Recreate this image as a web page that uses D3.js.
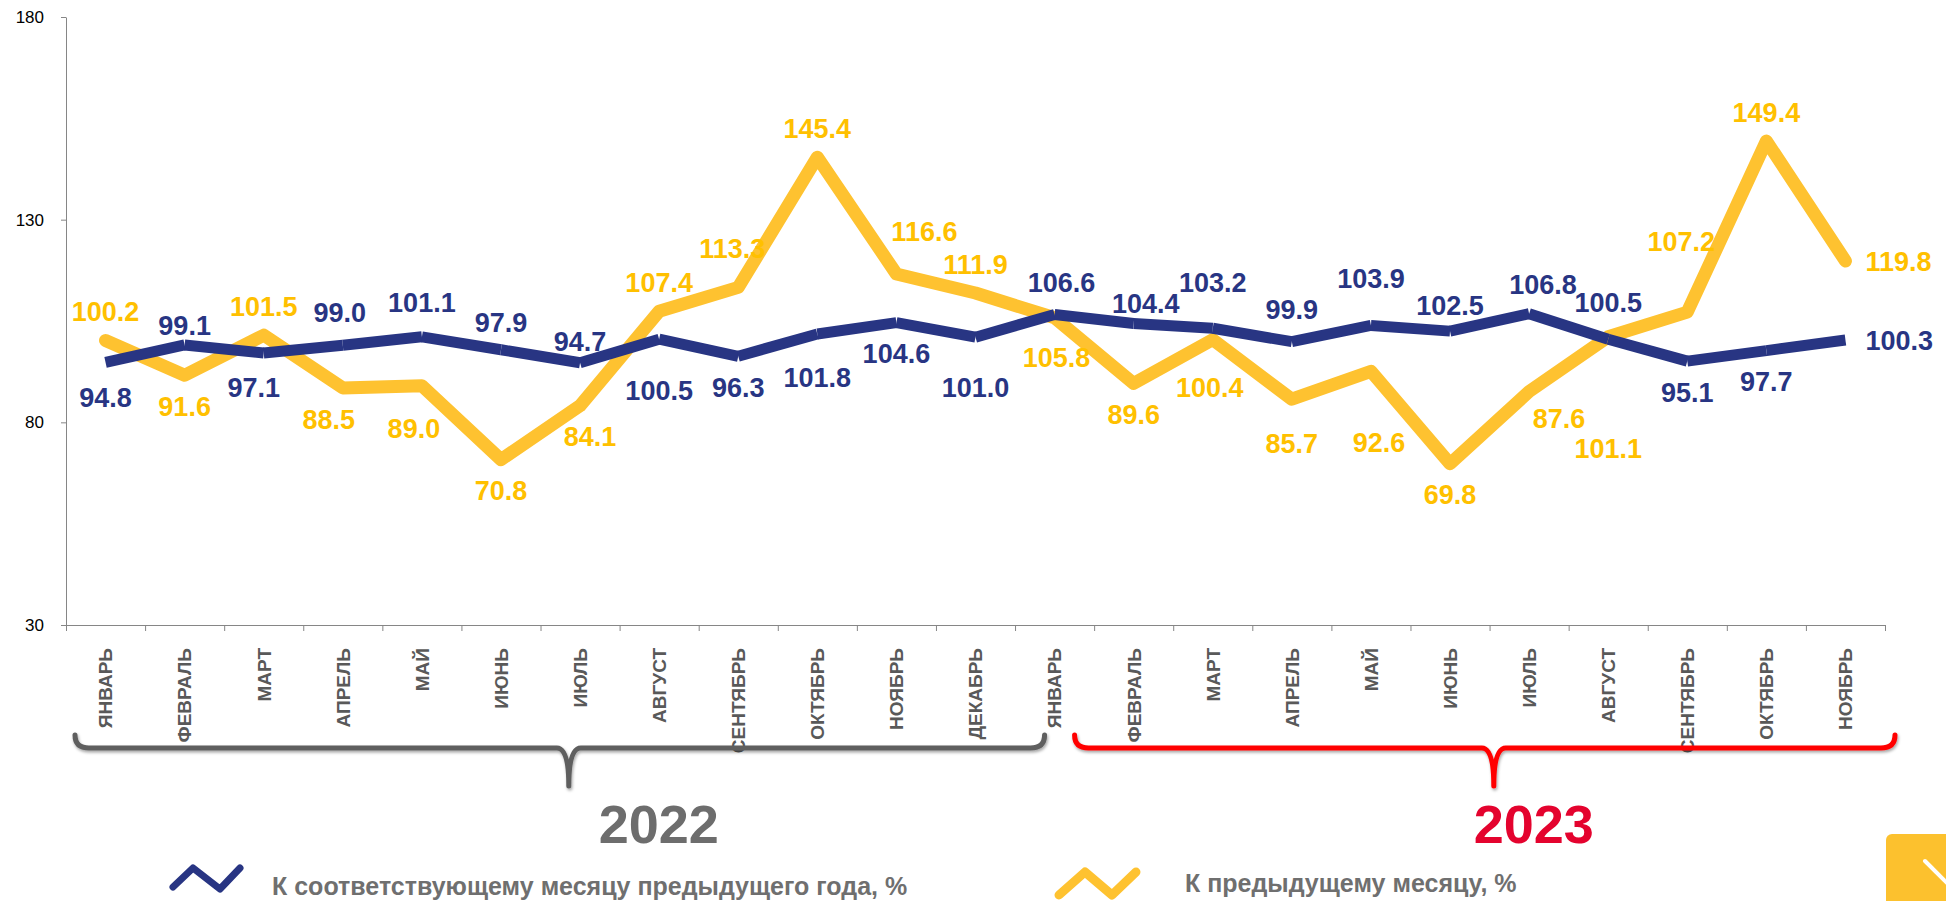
<!DOCTYPE html>
<html>
<head>
<meta charset="utf-8">
<script src="https://cdn.jsdelivr.net/npm/d3@7"></script>
<style>
body { margin: 0; background: #fff; }
svg text { font-family: "Liberation Sans", Arial, sans-serif; }
</style>
</head>
<body>
<div id="chart"></div>
<script>
var months = ["ЯНВАРЬ", "ФЕВРАЛЬ", "МАРТ", "АПРЕЛЬ", "МАЙ", "ИЮНЬ", "ИЮЛЬ", "АВГУСТ", "СЕНТЯБРЬ", "ОКТЯБРЬ", "НОЯБРЬ", "ДЕКАБРЬ",
    "ЯНВАРЬ", "ФЕВРАЛЬ", "МАРТ", "АПРЕЛЬ", "МАЙ", "ИЮНЬ", "ИЮЛЬ", "АВГУСТ", "СЕНТЯБРЬ", "ОКТЯБРЬ", "НОЯБРЬ"];
// к соответствующему месяцу предыдущего года
var yoyValues = [94.8, 99.1, 97.1, 99.0, 101.1, 97.9, 94.7, 100.5, 96.3, 101.8, 104.6, 101.0,
    106.6, 104.4, 103.2, 99.9, 103.9, 102.5, 106.8, 100.5, 95.1, 97.7, 100.3];
// к предыдущему месяцу
var momValues = [100.2, 91.6, 101.5, 88.5, 89.0, 70.8, 84.1, 107.4, 113.3, 145.4, 116.6, 111.9,
    105.8, 89.6, 100.4, 85.7, 92.6, 69.8, 87.6, 101.1, 107.2, 149.4, 119.8];
var yTicks = [30, 80, 130, 180];
var years = ["2022", "2023"];
var yearFirstMonth = [0, 12];
var legendNames = ["К соответствующему месяцу предыдущего года, %", "К предыдущему месяцу, %"];

// hand nudges for data labels [dx, dy], like the dragged labels of the original
var yoyNudge = [[0, 4], [0, 9], [-10, 3], [-3, -4], [0, -6], [0, 2], [0, 8], [0, 20], [0, 0], [0, 12], [0, 0], [0, 19],
    [7, -3], [12, 9], [0, -17], [0, -3], [0, -18], [0, 3], [14, 0], [0, -8], [0, 0], [0, 0], [0, 0]];
var momNudge = [[0, 0], [0, 0], [0, 0], [-14, 0], [-8, 11], [0, 0], [10, 0], [0, 0], [-6, -10], [0, 0], [28, -14], [0, 0],
    [2, 9], [0, 0], [-3, 17], [0, 13], [8, 40], [0, 0], [30, -4], [0, 80], [-6, -42], [0, 0], [0, 0]];

var width = 1946,
    height = 901,
    plotLeft = 66,
    plotRight = 1885,
    plotTop = 17,
    plotBottom = 625;

var blue = "#283583",
    yellow = "#fec230",
    yellowText = "#ffc000",
    grey = "#5f5f5f";

var svg = d3.select("#chart").append("svg")
    .attr("width", width)
    .attr("height", height);

var defs = svg.append("defs");
defs.append("filter").attr("id", "shadow")
    .attr("x", "-5%").attr("y", "-50%").attr("width", "110%").attr("height", "200%")
    .append("feDropShadow")
    .attr("dx", 1).attr("dy", 2).attr("stdDeviation", 1.5)
    .attr("flood-color", "#000").attr("flood-opacity", 0.35);

var x = d3.scaleBand().domain(d3.range(months.length)).range([plotLeft, plotRight]);
var xTick = d3.scaleLinear().domain([0, months.length]).range([plotLeft, plotRight]);
var y = d3.scaleLinear().domain([30, 180]).range([plotBottom, plotTop]);
var cx = function (i) { return x(i) + x.bandwidth() / 2; };

// y axis
var yAxis = svg.append("g")
    .attr("transform", "translate(" + plotLeft + ",0)")
    .attr("color", "#868686")
    .call(d3.axisLeft(y).tickValues(yTicks).tickSize(5).tickSizeOuter(0).tickPadding(17));
yAxis.selectAll("text")
    .attr("fill", "#000")
    .attr("font-size", 17)
    .attr("font-family", "Liberation Sans, Arial, sans-serif");

// x axis, ticks between months
svg.append("g")
    .attr("transform", "translate(0," + plotBottom + ")")
    .attr("color", "#868686")
    .call(d3.axisBottom(xTick).tickValues(d3.range(months.length + 1)).tickSize(6).tickSizeOuter(0).tickFormat(""));

svg.append("g").selectAll("text")
    .data(months)
    .enter().append("text")
    .attr("transform", function (d, i) { return "translate(" + cx(i) + ",648) rotate(-90)"; })
    .attr("text-anchor", "end")
    .attr("dy", "0.36em")
    .attr("font-size", 19)
    .attr("font-weight", "bold")
    .attr("fill", "#595959")
    .text(function (d) { return d; });

// lines
var line = d3.line()
    .x(function (d, i) { return cx(i); })
    .y(function (d) { return y(d); });

svg.append("path")
    .datum(momValues)
    .attr("d", line)
    .attr("fill", "none")
    .attr("stroke", yellow)
    .attr("stroke-width", 13)
    .attr("stroke-linejoin", "round")
    .attr("stroke-linecap", "round");

svg.append("g").selectAll("line")
    .data(d3.pairs(yoyValues))
    .enter().append("line")
    .attr("x1", function (d, i) { return cx(i); })
    .attr("x2", function (d, i) { return cx(i + 1); })
    .attr("y1", function (d) { return y(d[0]); })
    .attr("y2", function (d) { return y(d[1]); })
    .attr("stroke", blue)
    .attr("stroke-width", 11)
    .attr("stroke-linecap", "butt");

// value labels
var last = months.length - 1;
function yellowUp(i) { return momValues[i] > yoyValues[i] + 1; }

function addLabels(values, nudge, color, isYellow) {
    svg.append("g").selectAll("text")
        .data(values)
        .enter().append("text")
        .attr("x", function (d, i) { return (i === last ? cx(i) + 20 : cx(i)) + nudge[i][0]; })
        .attr("y", function (d, i) {
            if (i === last) return y(d);
            var up = isYellow ? yellowUp(i) : !yellowUp(i);
            return (up ? y(d) - 29 : y(d) + 31) + nudge[i][1];
        })
        .attr("dy", "0.36em")
        .attr("text-anchor", function (d, i) { return i === last ? "start" : "middle"; })
        .attr("font-size", 27)
        .attr("font-weight", "bold")
        .attr("fill", color)
        .text(function (d) { return d.toFixed(1); });
}
addLabels(momValues, momNudge, yellowText, true);
addLabels(yoyValues, yoyNudge, blue, false);

// year braces
var braceY = 748;
var braces = [
    { x0: x(yearFirstMonth[0]) + 9, x1: cx(yearFirstMonth[1]) - 10, color: grey, text: "#6d6d6d", labelShift: 90 },
    { x0: cx(yearFirstMonth[1]) + 20, x1: plotRight + 10, color: "#ff0000", text: "#e4032e", labelShift: 40 }
];
braces.forEach(function (b, k) {
    var xm = (b.x0 + b.x1) / 2 + 9;
    var p = d3.path();
    p.moveTo(b.x0, braceY - 13);
    p.quadraticCurveTo(b.x0, braceY, b.x0 + 14, braceY);
    p.lineTo(xm - 12, braceY);
    p.quadraticCurveTo(xm, braceY, xm, braceY + 38);
    p.quadraticCurveTo(xm, braceY, xm + 12, braceY);
    p.lineTo(b.x1 - 14, braceY);
    p.quadraticCurveTo(b.x1, braceY, b.x1, braceY - 13);
    svg.append("path")
        .attr("d", p.toString())
        .attr("fill", "none")
        .attr("stroke", b.color)
        .attr("stroke-width", 5)
        .attr("stroke-linejoin", "round")
        .attr("stroke-linecap", "round")
        .attr("filter", "url(#shadow)");
    svg.append("text")
        .attr("x", xm + b.labelShift)
        .attr("y", 843)
        .attr("text-anchor", "middle")
        .attr("font-size", 54)
        .attr("font-weight", "bold")
        .attr("fill", b.text)
        .text(years[k]);
});

// legend
var legendItems = [
    { pts: [[173, 887], [193, 868], [220, 889], [240, 868]], color: blue, w: 7, tx: 272, ty: 895 },
    { pts: [[1059, 895], [1085, 872], [1112, 895], [1136, 872]], color: yellow, w: 9, tx: 1185, ty: 892 }
];
legendItems.forEach(function (l, k) {
    svg.append("path")
        .attr("d", d3.line()(l.pts))
        .attr("fill", "none")
        .attr("stroke", l.color)
        .attr("stroke-width", l.w)
        .attr("stroke-linecap", "round")
        .attr("stroke-linejoin", "round");
    svg.append("text")
        .attr("x", l.tx)
        .attr("y", l.ty)
        .attr("font-size", 25)
        .attr("font-weight", "bold")
        .attr("fill", "#6f6f6f")
        .text(legendNames[k]);
});

// corner button
svg.append("rect")
    .attr("x", 1886).attr("y", 834)
    .attr("width", 70).attr("height", 80)
    .attr("rx", 6)
    .attr("fill", "#fcc12e");
svg.append("line")
    .attr("x1", 1925).attr("y1", 861)
    .attr("x2", 1950).attr("y2", 886)
    .attr("stroke", "#fff")
    .attr("stroke-width", 4)
    .attr("stroke-linecap", "round");
</script>
</body>
</html>
